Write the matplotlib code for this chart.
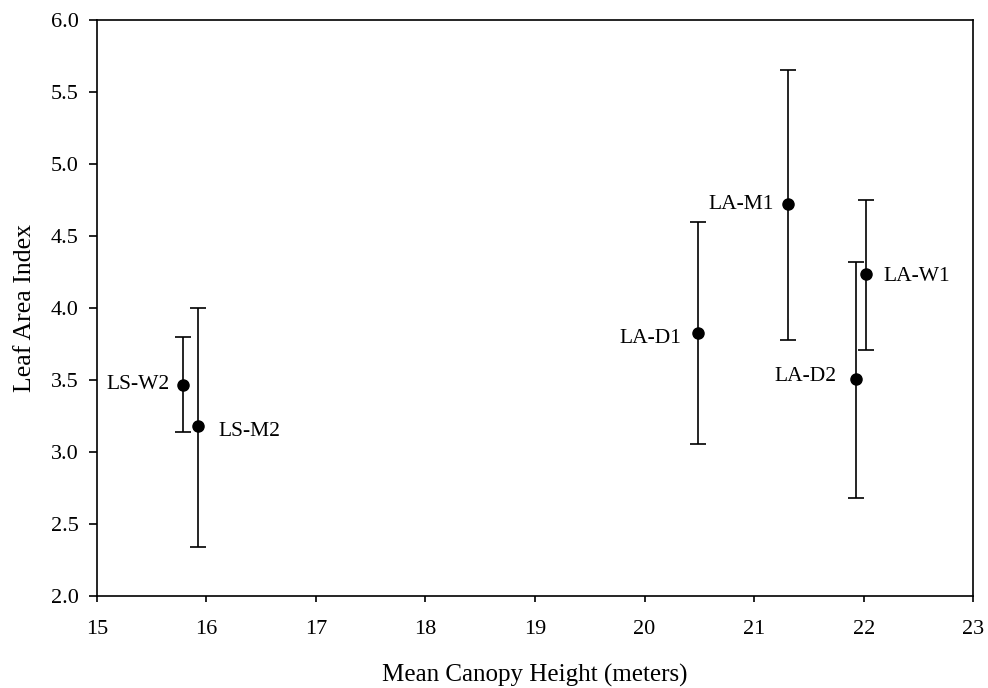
"""Leaf area index against mean canopy height, with error bars per site."""

import matplotlib
matplotlib.use("Agg")
import matplotlib.pyplot as plt

# site labels and values
sites = ["LS-W2", "LS-M2", "LA-D1", "LA-M1", "LA-D2", "LA-W1"]
height_m = [15.79, 15.92, 20.49, 21.31, 21.93, 22.02]
lai = [3.47, 3.18, 3.83, 4.72, 3.51, 4.24]
lai_low = [3.14, 2.34, 3.06, 3.78, 2.68, 3.71]
lai_high = [3.80, 4.00, 4.60, 5.65, 4.32, 4.75]

# label placement (offset in points) for each site
label_offsets = [(-10, 0), (15, -4), (-12, -4), (-10, 0), (-14, 2), (13, -2)]

plt.rcParams["font.family"] = ["Liberation Serif", "DejaVu Serif"]

fig = plt.figure(figsize=(9.88, 6.88), dpi=100)
ax = fig.add_axes([0.098, 0.133, 0.887, 0.838])

err_lo = [v - lo for v, lo in zip(lai, lai_low)]
err_hi = [hi - v for v, hi in zip(lai, lai_high)]
ax.errorbar(height_m, lai, yerr=[err_lo, err_hi], fmt="o", color="black",
            markersize=8, ecolor="black", elinewidth=1.2, capsize=6,
            capthick=1.2)

for name, x, y, (dx, dy) in zip(sites, height_m, lai, label_offsets):
    ax.annotate(name, (x, y), xytext=(dx, dy), textcoords="offset points",
                ha="right" if dx < 0 else "left", va="center", fontsize=15.5)

ax.set_xlim(15, 23)
ax.set_ylim(2.0, 6.0)
ax.set_xticks(range(15, 24))
ax.set_yticks([2.0, 2.5, 3.0, 3.5, 4.0, 4.5, 5.0, 5.5, 6.0])
ax.set_yticklabels([f"{v:.1f}" for v in ax.get_yticks()])
ax.tick_params(direction="out", width=1.2, labelsize=16)
ax.tick_params(axis="x", length=4, pad=13)
ax.tick_params(axis="y", length=6, pad=7)
for spine in ax.spines.values():
    spine.set_linewidth(1.2)

ax.set_xlabel("Mean Canopy Height (meters)", fontsize=18, labelpad=18)
ax.set_ylabel("Leaf Area Index", fontsize=18.5, labelpad=11)

fig.savefig("out.png", dpi=100)
